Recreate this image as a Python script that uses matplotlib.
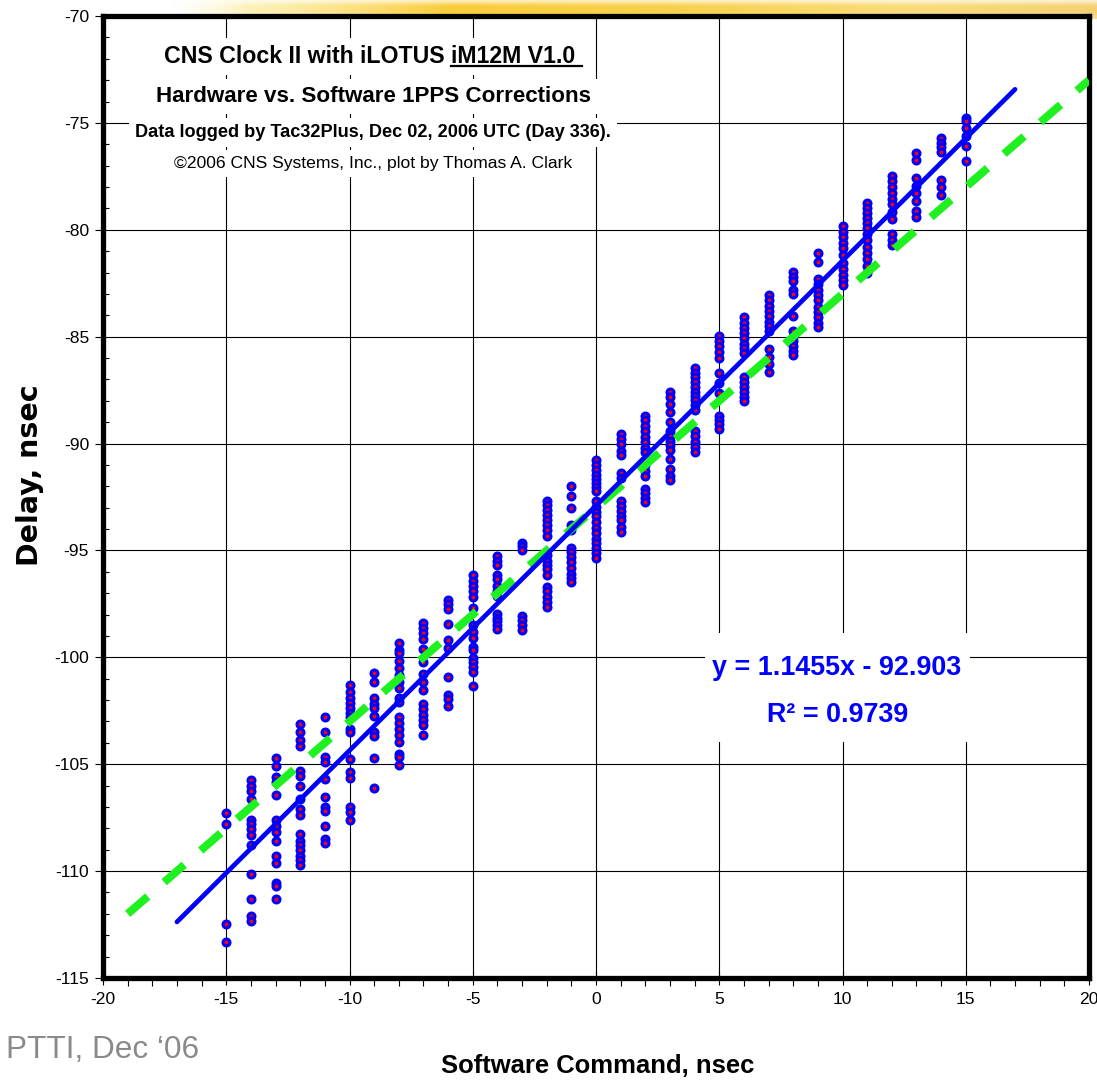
import matplotlib
matplotlib.use("Agg")
import matplotlib.pyplot as plt
from matplotlib import font_manager as fm
from matplotlib.patches import Rectangle
from matplotlib.ticker import MultipleLocator
import numpy as np

# ---------------- data ----------------
# Delay readings (nsec) logged at each integer software command (nsec)
d_m15 = [-107.27, -107.8, -112.46, -113.32]
d_m14 = [-105.76, -106.0, -106.23, -106.62, -107.59, -107.79, -108.02, -108.33, -108.8, -110.12, -111.32, -112.12, -112.35]
d_m13 = [-104.72, -105.06, -105.61, -105.84, -106.43, -107.63, -107.87, -108.15, -108.57, -109.27, -109.61, -110.55, -110.7, -111.29]
d_m12 = [-103.12, -103.5, -103.89, -104.13, -105.3, -105.56, -106.0, -106.62, -107.09, -107.37, -108.26, -108.57, -108.8, -109.03, -109.27, -109.5, -109.7]
d_m11 = [-102.8, -103.5, -104.67, -104.88, -105.69, -106.54, -107.01, -107.21, -107.9, -108.49, -108.68]
d_m10 = [-101.29, -101.64, -101.9, -102.12, -102.36, -102.6, -102.78, -103.35, -103.47, -104.75, -105.37, -105.65, -107.01, -107.24, -107.59]
d_m9 = [-100.75, -101.14, -101.92, -102.2, -102.35, -102.73, -103.5, -103.68, -104.72, -106.12]
d_m8 = [-99.34, -99.66, -99.81, -100.17, -100.52, -100.83, -101.14, -101.45, -101.92, -102.08, -102.78, -103.09, -103.33, -103.64, -103.95, -104.5, -104.66, -105.05]
d_m7 = [-98.41, -98.64, -98.88, -99.14, -99.61, -100.2, -100.8, -101.14, -101.53, -102.16, -102.42, -102.7, -102.94, -103.17, -103.64]
d_m6 = [-97.31, -97.52, -97.73, -98.45, -99.19, -99.58, -100.91, -101.77, -101.95, -102.27]
d_m5 = [-96.17, -96.45, -96.64, -96.92, -97.16, -97.7, -98.48, -98.8, -99.11, -99.5, -99.66, -100.05, -100.23, -100.47, -100.7, -101.33]
d_m4 = [-95.28, -95.48, -95.7, -96.17, -96.33, -96.64, -96.89, -97.11, -97.97, -98.14, -98.3, -98.48, -98.69]
d_m3 = [-94.66, -94.81, -94.97, -98.05, -98.25, -98.48, -98.72]
d_m2 = [-92.67, -92.86, -93.09, -93.33, -93.56, -93.8, -94.03, -94.34, -95.2, -95.48, -95.7, -95.86, -96.14, -96.69, -96.92, -97.2, -97.42, -97.63]
d_m1 = [-92.0, -92.47, -93.02, -93.83, -94.03, -94.89, -95.08, -95.33, -95.55, -95.83, -96.11, -96.3, -96.48]
d_0 = [-90.75, -91.0, -91.25, -91.45, -91.65, -91.85, -92.05, -92.2, -92.7, -92.95, -93.2, -93.4, -93.65, -93.95, -94.2, -94.45, -94.65, -94.9, -95.1, -95.35]
d_p1 = [-89.56, -89.79, -90.0, -90.35, -90.54, -91.38, -91.61, -92.69, -92.91, -93.16, -93.39, -93.59, -93.91, -94.15]
d_p2 = [-88.69, -88.92, -89.16, -89.4, -89.67, -89.95, -90.19, -90.38, -90.98, -91.3, -91.53, -92.12, -92.33, -92.56, -92.75]
d_p3 = [-87.58, -87.82, -88.13, -88.53, -89.0, -89.4, -89.64, -89.87, -90.06, -90.32, -90.74, -91.17, -91.53, -91.69]
d_p4 = [-86.47, -86.68, -86.9, -87.14, -87.37, -87.58, -87.77, -87.97, -88.21, -88.45, -89.4, -89.64, -89.91, -90.16, -90.38]
d_p5 = [-84.97, -85.2, -85.44, -85.7, -86.0, -86.72, -87.18, -87.65, -88.7, -88.92, -89.1, -89.33]
d_p6 = [-84.1, -84.37, -84.6, -84.84, -85.08, -85.32, -85.55, -85.76, -86.87, -87.1, -87.34, -87.58, -87.82, -88.01]
d_p7 = [-83.07, -83.3, -83.55, -83.8, -84.05, -84.3, -84.5, -84.75, -85.6, -85.95, -86.3, -86.65]
d_p8 = [-81.96, -82.2, -82.38, -82.8, -83.0, -84.05, -84.75, -85.0, -85.22, -85.45, -85.65, -85.85]
d_p9 = [-81.1, -81.5, -82.3, -82.55, -82.8, -83.05, -83.3, -83.6, -83.85, -84.1, -84.35, -84.55]
d_p10 = [-79.84, -80.1, -80.35, -80.6, -80.85, -81.2, -81.55, -81.85, -82.1, -82.35, -82.6]
d_p11 = [-78.74, -78.98, -79.21, -79.45, -79.69, -79.92, -80.19, -80.47, -80.79, -81.1, -81.37, -81.68, -82.01]
d_p12 = [-77.5, -77.73, -77.98, -78.26, -78.55, -78.8, -79.15, -79.5, -80.2, -80.5, -80.72]
d_p13 = [-76.4, -76.72, -77.6, -77.95, -78.3, -78.66, -79.14, -79.38]
d_p14 = [-75.7, -75.93, -76.15, -76.38, -77.65, -77.99, -78.35]
d_p15 = [-74.75, -74.9, -75.24, -75.62, -76.1, -76.8]

commands = list(range(-15, 16))
delay_columns = [d_m15, d_m14, d_m13, d_m12, d_m11, d_m10, d_m9, d_m8, d_m7, d_m6,
                 d_m5, d_m4, d_m3, d_m2, d_m1, d_0, d_p1, d_p2, d_p3, d_p4, d_p5,
                 d_p6, d_p7, d_p8, d_p9, d_p10, d_p11, d_p12, d_p13, d_p14, d_p15]

# linear fit (from chart) and the reference 1:1 line
fit_slope = 1.1455
fit_intercept = -92.903
fit_x_range = [-17, 17]
ref_slope = 1.0
ref_intercept = -93.0
ref_x_range = [-19, 20]

x_ticks = [-20, -15, -10, -5, 0, 5, 10, 15, 20]
y_ticks = [-70, -75, -80, -85, -90, -95, -100, -105, -110, -115]

title_lines = ["CNS Clock II with iLOTUS iM12M V1.0 ",
               "Hardware vs. Software 1PPS Corrections",
               "Data logged by Tac32Plus, Dec 02, 2006 UTC (Day 336).",
               "\u00a92006 CNS Systems, Inc., plot by Thomas A. Clark"]
underlined_part = "iM12M V1.0 "
eq_text = "y = 1.1455x - 92.903"
r2_text = "R\u00b2 = 0.9739"
x_label = "Software Command, nsec"
y_label = "Delay, nsec"
footer = "PTTI, Dec \u201806"

# ---------------- fonts ----------------
avail = {f.name for f in fm.fontManager.ttflist}
NARROW = "Liberation Sans Narrow" if "Liberation Sans Narrow" in avail else "Liberation Sans"
SCALE = 1.0 if NARROW == "Liberation Sans Narrow" else 0.84
NARROW_F = [NARROW, "DejaVu Sans"]

W, H = 1097, 1085
fig = plt.figure(figsize=(W / 100, H / 100), dpi=100)
fig.patch.set_facecolor("white")


def fx(px):
    return px / W


def fy(py):
    return 1 - py / H


# ---------------- yellow brush decoration ----------------
bx0, bx1 = 170, 1097
brush_ax = fig.add_axes([fx(bx0), fy(19), fx(bx1 - bx0), 19 / H], zorder=-5)
brush_ax.set_axis_off()
nx = 400
t = np.linspace(0, 1, nx)
stops_t = [0.0, 0.08, 0.3, 0.55, 0.8, 1.0]
stops_r = [1.0, 0.99, 0.98, 0.97, 0.98, 0.95]
stops_g = [0.97, 0.93, 0.80, 0.82, 0.86, 0.80]
stops_b = [0.85, 0.62, 0.22, 0.30, 0.45, 0.38]
stops_a = [0.0, 0.7, 1.0, 1.0, 0.95, 0.9]
row = np.stack([np.interp(t, stops_t, stops_r), np.interp(t, stops_t, stops_g),
                np.interp(t, stops_t, stops_b), np.interp(t, stops_t, stops_a)], axis=-1)
vert = np.array([0.35, 0.6, 0.85, 1.0, 1.0, 1.0, 0.95, 0.9, 0.8, 0.7])
img = np.repeat(row[None, :, :], len(vert), axis=0)
img[:, :, 3] = img[:, :, 3] * vert[:, None]
brush_ax.imshow(img, aspect="auto", interpolation="bilinear")

# ---------------- main axes ----------------
left, right, top, bottom = 103, 1089, 16, 978
ax = fig.add_axes([fx(left), fy(bottom), fx(right - left), (bottom - top) / H])
ax.set_facecolor("white")
ax.set_xlim(-20, 20)
ax.set_ylim(-115, -70)
ax.set_xticks(x_ticks)
ax.set_yticks(y_ticks)
ax.xaxis.set_minor_locator(MultipleLocator(1))
ax.yaxis.set_minor_locator(MultipleLocator(1))
ax.set_xticklabels([str(v) for v in x_ticks])
ax.set_yticklabels([str(v) for v in y_ticks])
ax.grid(which="major", color="black", linewidth=0.8)
ax.set_axisbelow(True)
for s in ax.spines.values():
    s.set_linewidth(3.8)
    s.set_color("black")

ax.tick_params(axis="x", which="major", direction="inout", length=10, width=0.8,
               pad=5, colors="black")
ax.tick_params(axis="x", which="minor", direction="out", length=6, width=0.8)
ax.tick_params(axis="y", which="major", direction="out", length=6, width=0.8,
               pad=4, colors="black")
ax.tick_params(axis="y", which="minor", direction="in", length=4, width=0.8)
for lab in ax.get_xticklabels() + ax.get_yticklabels():
    lab.set_fontfamily(NARROW_F)
    lab.set_fontsize(14 * (1.0 if SCALE == 1.0 else 0.9))

# scatter columns
for cmd, col in zip(commands, delay_columns):
    ax.plot([cmd] * len(col), col, linestyle="none", marker="o", markersize=5.0,
            markerfacecolor="#ff0000", markeredgecolor="#0000ff", markeredgewidth=2.2,
            zorder=3)

# 1:1 reference (green dashed)
rx = np.array(ref_x_range, dtype=float)
ax.plot(rx, ref_slope * rx + ref_intercept, color="#1ff01f", linewidth=5.8,
        linestyle=(0, (3.3, 2.7)), dash_capstyle="butt", zorder=4)

# linear fit (blue)
fxr = np.array(fit_x_range, dtype=float)
ax.plot(fxr, fit_slope * fxr + fit_intercept, color="#0000ff", linewidth=3.4,
        solid_capstyle="round", zorder=5)

# ---------------- title block ----------------
title_specs = [
    (title_lines[0], 63, 19.8, "bold"),
    (title_lines[1], 102, 19.2, "bold"),
    (title_lines[2], 137, 15.5, "bold"),
    (title_lines[3], 168, 15.0, "normal"),
]
cx_title = 373
title_texts = []
for txt, base, size, wt in title_specs:
    tt = fig.text(fx(cx_title), fy(base), txt, ha="center", va="baseline",
                  fontsize=size * SCALE, fontweight=wt, family=NARROW_F, color="black",
                  bbox=dict(boxstyle="square,pad=0.32", fc="white", ec="none"), zorder=6)
    title_texts.append(tt)

# underline of "iM12M V1.0 "
fig.canvas.draw()
rend = fig.canvas.get_renderer()
t0 = title_texts[0]
full_ext = t0.get_window_extent(rend)
prefix = title_lines[0][: len(title_lines[0]) - len(underlined_part)]
tmp = fig.text(0, 0, prefix, fontsize=t0.get_fontsize(), fontweight="bold", family=NARROW_F)
pre_w = tmp.get_window_extent(rend).width
tmp.remove()
ux0 = full_ext.x0 + pre_w
ux1 = full_ext.x1
uy = fy(66) * H
fig.add_artist(plt.Line2D([ux0 / W, ux1 / W], [uy / H, uy / H], color="black",
                          linewidth=1.6, transform=fig.transFigure, zorder=7))

# ---------------- regression equation box ----------------
fig.add_artist(Rectangle((fx(705), fy(742)), fx(970 - 705), (742 - 633) / H,
                         transform=fig.transFigure, facecolor="white", edgecolor="none",
                         zorder=6))
fig.text(fx(837), fy(675), eq_text, ha="center", va="baseline", fontsize=23 * SCALE,
         fontweight="bold", family=NARROW_F, color="#0000ff", zorder=7)
fig.text(fx(838), fy(722), r2_text, ha="center", va="baseline", fontsize=23 * SCALE,
         fontweight="bold", family=NARROW_F, color="#0000ff", zorder=7)

# ---------------- axis labels & footer ----------------
fig.text(fx(598), fy(1066), x_label, ha="center", va="center", fontsize=22 * SCALE,
         fontweight="bold", family=NARROW_F, color="black")
fig.text(fx(30), fy(475), y_label, ha="center", va="center", rotation=90,
         fontsize=20.5, fontweight="bold", family=["DejaVu Sans"], color="black")
fig.text(fx(6), fy(1050), footer, ha="left", va="center", fontsize=27 * SCALE,
         family=NARROW_F, color="#8a8a8a")

fig.savefig("out.png", dpi=100, facecolor="white")
